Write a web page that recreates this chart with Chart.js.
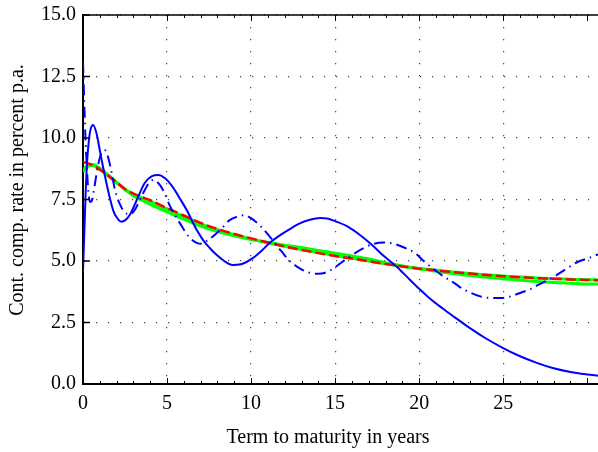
<!DOCTYPE html>
<html>
<head>
<meta charset="utf-8">
<script src="https://cdn.jsdelivr.net/npm/chart.js@4/dist/chart.umd.min.js"></script>
<style>
html,body{margin:0;padding:0;background:#fff;}
#wrap{width:598px;height:452px;position:relative;}
</style>
</head>
<body>
<div id="wrap"><canvas id="c" width="598" height="452"></canvas></div>
<script>
// ---- data ----
const xTicks = [0, 5, 10, 15, 20, 25];
const yTicks = [0, 2.5, 5, 7.5, 10, 12.5, 15];
const xTitle = 'Term to maturity in years';
const yTitle = 'Cont. comp. rate in percent p.a.';

const tSolid = [0,0.08,0.16,0.25,0.35,0.45,0.6,0.8,1.0,1.2,1.4,1.6,1.8,2.0,2.28,2.5,2.78,3.2,3.67,4.1,4.5,4.9,5.34,5.8,6.17,6.77,7.2,7.54,7.96,8.4,8.9,9.4,10.1,10.6,11.1,11.8,12.5,12.9,13.5,14.1,14.6,15.0,15.8,16.5,17.2,17.9,18.7,19.4,20.0,20.6,21.4,22.1,23.0,24.0,25.0,25.8,27.0,28.0,29.0,30.0,30.64];
const blueSolid = [4.55,6.2,7.8,9.1,9.9,10.35,10.53,10.2,9.5,8.8,8.15,7.55,7.05,6.78,6.6,6.65,6.87,7.48,8.17,8.45,8.5,8.35,8.0,7.5,7.07,6.26,5.8,5.53,5.24,5.0,4.84,4.87,5.12,5.4,5.73,6.08,6.38,6.53,6.68,6.75,6.72,6.62,6.38,6.05,5.65,5.2,4.75,4.27,3.87,3.5,3.07,2.72,2.28,1.84,1.46,1.19,0.86,0.64,0.49,0.39,0.34];

const tDash = [0,0.05,0.12,0.2,0.3,0.42,0.55,0.7,0.9,1.1,1.3,1.5,1.7,1.9,2.2,2.5,2.8,3.1,3.5,3.9,4.2,4.5,4.75,5.2,5.8,6.3,6.8,7.1,7.4,7.9,8.3,8.7,9.3,9.6,10.0,10.6,11.1,11.8,12.3,12.9,13.5,14.0,14.5,15.0,15.7,16.5,17.2,17.9,18.5,19.1,19.8,20.3,20.8,21.4,22.1,22.6,23.1,23.7,24.3,25.0,25.6,26.2,26.6,27.0,27.5,28.0,28.4,28.8,29.4,30.0,30.64];
const blueDash = [13.1,12.0,10.5,9.2,8.0,7.4,7.5,8.1,8.9,9.4,9.5,9.2,8.6,7.9,7.3,6.97,6.9,7.1,7.65,8.15,8.3,8.15,7.9,7.2,6.5,5.98,5.73,5.7,5.83,6.1,6.36,6.65,6.83,6.86,6.74,6.39,6.0,5.4,5.0,4.7,4.52,4.48,4.55,4.75,5.1,5.45,5.68,5.75,5.7,5.55,5.3,4.98,4.7,4.4,4.1,3.86,3.7,3.55,3.5,3.5,3.6,3.75,3.85,4.0,4.17,4.35,4.53,4.7,4.95,5.1,5.27];

const tSmooth = [0,0.3,0.6,1,1.5,2,2.5,3,3.5,4,5,6,7,8,9,10,11,12,13,14,15,16,17,18,19,20,21,22,23,24,25,26,27,28,29,30,30.64];
const redCurve = [9.02,8.97,8.88,8.72,8.48,8.2,7.93,7.74,7.6,7.47,7.15,6.85,6.55,6.3,6.1,5.92,5.75,5.59,5.45,5.32,5.2,5.1,4.99,4.88,4.78,4.69,4.62,4.55,4.49,4.43,4.38,4.34,4.3,4.28,4.25,4.23,4.22];
const green1 = [8.7,8.88,8.88,8.72,8.45,8.18,7.92,7.72,7.57,7.43,7.11,6.81,6.51,6.27,6.07,5.9,5.74,5.6,5.47,5.34,5.22,5.11,5.0,4.89,4.79,4.7,4.62,4.55,4.49,4.44,4.39,4.35,4.31,4.28,4.26,4.24,4.23];
const green2 = [8.62,8.85,8.92,8.78,8.5,8.2,7.9,7.65,7.47,7.3,7.0,6.7,6.42,6.2,6.02,5.87,5.75,5.64,5.55,5.43,5.32,5.2,5.08,4.93,4.8,4.68,4.58,4.49,4.41,4.34,4.28,4.22,4.17,4.13,4.1,4.07,4.06];

const pts = (xs, ys) => xs.map((x, i) => ({x: x, y: ys[i]}));
const FONT = "'Liberation Serif', 'DejaVu Serif', serif";

const framePlugin = {
  id: 'frame',
  afterDatasetsDraw(chart) {
    const {ctx, chartArea: a, scales: {x, y}} = chart;
    ctx.save();
    ctx.strokeStyle = '#000';
    ctx.lineWidth = 1.5;
    ctx.beginPath();
    ctx.moveTo(a.left, a.top); ctx.lineTo(a.right, a.top);
    ctx.stroke();
    ctx.lineWidth = 1;
    for (let v = 0; v <= Math.floor(x.max); v++) {
      const px = Math.round(x.getPixelForValue(v)) + 0.5;
      const len = (v % 5 === 0) ? 6 : 3;
      ctx.beginPath();
      ctx.moveTo(px, a.bottom); ctx.lineTo(px, a.bottom - len);
      ctx.moveTo(px, a.top); ctx.lineTo(px, a.top + len);
      ctx.stroke();
    }
    ctx.lineWidth = 1.5;
    yTicks.forEach(v => {
      const py = y.getPixelForValue(v);
      ctx.beginPath();
      ctx.moveTo(a.left, py); ctx.lineTo(a.left + 7, py);
      ctx.stroke();
    });
    ctx.restore();
  },
  afterDraw(chart) {
    const {ctx} = chart;
    ctx.save();
    ctx.fillStyle = '#000';
    ctx.font = "20px " + FONT;
    ctx.textAlign = 'center';
    ctx.textBaseline = 'middle';
    ctx.fillText(xTitle, 328, 438);
    ctx.translate(18, 190);
    ctx.rotate(-Math.PI / 2);
    ctx.fillText(yTitle, 0, 0);
    ctx.restore();
  }
};

new Chart(document.getElementById('c'), {
  type: 'line',
  data: {
    datasets: [
      {data: pts(tSolid, blueSolid), borderColor: '#0000ff', borderWidth: 2, pointRadius: 0, cubicInterpolationMode: 'monotone', fill: false},
      {data: pts(tDash, blueDash), borderColor: '#0000ff', borderWidth: 2, borderDash: [11, 5, 1.5, 5], pointRadius: 0, cubicInterpolationMode: 'monotone', fill: false},
      {data: pts(tSmooth, redCurve), borderColor: '#ff0000', borderWidth: 2.5, borderDash: [10, 4], pointRadius: 0, cubicInterpolationMode: 'monotone', fill: false},
      {data: pts(tSmooth, green1), borderColor: '#00ff00', borderWidth: 3, pointRadius: 0, cubicInterpolationMode: 'monotone', fill: false},
      {data: pts(tSmooth, green2), borderColor: '#00ff00', borderWidth: 3, pointRadius: 0, cubicInterpolationMode: 'monotone', fill: false}
    ]
  },
  options: {
    responsive: false,
    animation: false,
    devicePixelRatio: 1,
    layout: {padding: {top: 15, right: 0, left: 0, bottom: 0}},
    plugins: {legend: {display: false}, tooltip: {enabled: false}},
    scales: {
      x: {
        type: 'linear', min: 0, max: 30.64,
        afterBuildTicks: s => { s.ticks = xTicks.map(v => ({value: v})); },
        afterFit: s => { s.height = 68; s.paddingLeft = 0; s.paddingRight = 0; },
        ticks: {color: '#000', padding: 8, font: {family: FONT, size: 20}, maxRotation: 0, autoSkip: false,
          callback: v => String(v)},
        grid: {color: '#444', lineWidth: 1.2, drawTicks: false},
        border: {display: true, color: '#000', width: 2, dash: [1.2, 10.8]}
      },
      y: {
        type: 'linear', min: 0, max: 15,
        afterBuildTicks: s => { s.ticks = yTicks.map(v => ({value: v})); },
        afterFit: s => { s.width = 83; s.paddingTop = 0; s.paddingBottom = 0; },
        ticks: {color: '#000', padding: 7, font: {family: FONT, size: 20},
          callback: v => Number(v).toFixed(1)},
        grid: {color: '#444', lineWidth: 1.2, drawTicks: false},
        border: {display: true, color: '#000', width: 2, dash: [1.2, 10.8]}
      }
    }
  },
  plugins: [framePlugin]
});
</script>
</body>
</html>
